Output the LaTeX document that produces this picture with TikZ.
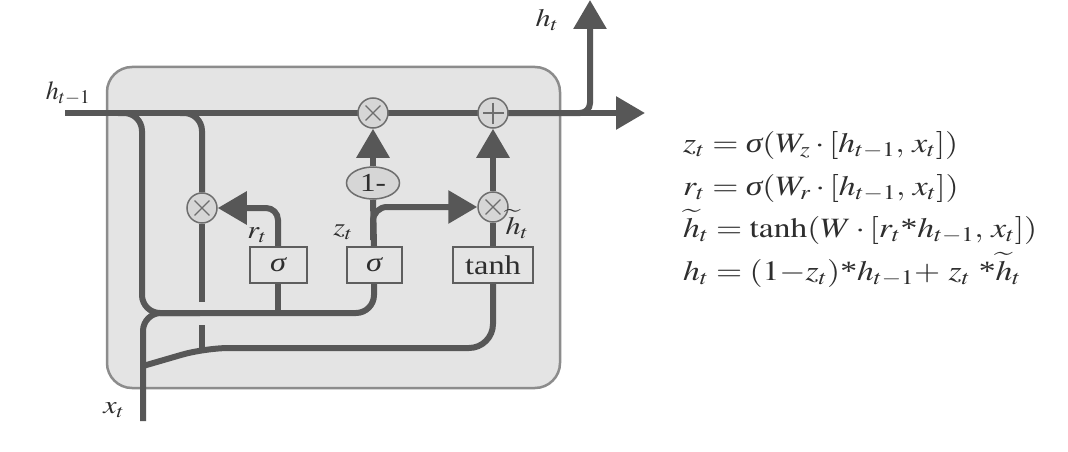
\documentclass[tikz,border=0pt]{standalone}
\usepackage{mathptmx}
\usepackage{fontspec}
\setmainfont{Liberation Serif}
\usetikzlibrary{arrows.meta,shapes.geometric}
\definecolor{wirec}{HTML}{575757}
\definecolor{cellf}{HTML}{E4E4E4}
\definecolor{celld}{HTML}{8C8C8C}
\definecolor{opf}{HTML}{D6D6D6}
\definecolor{opd}{HTML}{6E6E6E}
\definecolor{gated}{HTML}{5E5E5E}
\definecolor{txt}{HTML}{2E2E2E}
\newcommand\stx{\mbox{*}}
\newcommand\sig{\mbox{\itshape σ}}
\newcommand\wx[1]{\scalebox{1.2}[1]{#1}}
\pgfdeclarelayer{back}
\pgfdeclarelayer{wires}
\pgfsetlayers{back,wires,main}
\tikzset{
  wire/.style={line width=6pt, draw=wirec},
  tip/.style={-{Triangle[length=29pt,width=32pt]}},
  op/.style={circle, draw=opd, fill=opf, line width=1.5pt, minimum size=30pt, inner sep=0pt},
  timesop/.style={op, path picture={\draw[line width=1.3pt, opd]
      ([shift={(45:10.5pt)}]path picture bounding box.center) -- ([shift={(225:10.5pt)}]path picture bounding box.center)
      ([shift={(135:10.5pt)}]path picture bounding box.center) -- ([shift={(-45:10.5pt)}]path picture bounding box.center);}},
  plusop/.style={op, path picture={\draw[line width=1.3pt, opd]
      ([shift={(0:10.5pt)}]path picture bounding box.center) -- ([shift={(180:10.5pt)}]path picture bounding box.center)
      ([shift={(90:10.5pt)}]path picture bounding box.center) -- ([shift={(-90:10.5pt)}]path picture bounding box.center);}},
  gatebox/.style={rectangle, draw=gated, fill=cellf, line width=2pt, minimum height=36pt, inner sep=0pt, text=txt, font=\fontsize{27}{28}\selectfont},
  onebox/.style={ellipse, draw=opd, fill=opf, line width=1.5pt, minimum width=53pt, minimum height=32pt, inner sep=0pt, text=txt, font=\fontsize{26}{28}\selectfont},
  lbl/.style={text=txt, inner sep=0pt, font=\fontsize{25}{26}\selectfont},
  eq/.style={text=txt, inner sep=0pt, anchor=base west, font=\fontsize{28}{30}\selectfont},
}
\begin{document}
\begin{tikzpicture}[x=1pt,y=-1pt]
\useasboundingbox (0,0) rectangle (1068,452);
% cell
\begin{pgfonlayer}{back}
\fill[white] (0,0) rectangle (1068,452);
\node[draw=celld, fill=cellf, line width=2.5pt, rounded corners=25pt, minimum width=453pt, minimum height=321pt] (cell) at (333.5,227.5) {};
\end{pgfonlayer}
% operators and gates
\node[timesop] (mz) at (373,113) {};
\node[plusop] (pl) at (493,113) {};
\node[onebox] (one) at (373,183) {\wx{1-}};
\node[timesop] (mr) at (202,208) {};
\node[timesop] (mh) at (493,207) {};
\node[gatebox, minimum width=57pt] (sr) at (278,265) {\wx{\sig}};
\node[gatebox, minimum width=55pt] (sz) at (374,265) {\wx{\sig}};
\node[gatebox, minimum width=80pt] (th) at (493,265) {\wx{tanh}};
% coordinates
\coordinate (hin) at (65,113);
\coordinate (hout) at (645,113);
\coordinate (htop) at (590,0);
\coordinate (xbot) at (143,421);
% labels
\node[lbl] (lht) at (547,20) {\wx{$h_t$}};
\node[lbl, font=\fontsize{26}{26}\selectfont] (lhp) at (68,93) {$h_{t-1}$};
\node[lbl] (lx) at (114,410) {\wx{$x_t$}};
\node[lbl] (lr) at (257,235) {\wx{$r_t$}};
\node[lbl] (lz) at (343,232) {\wx{$z_t$}};
\node[lbl] (lhh) at (517,224) {\wx{$\widetilde{h}_t$}};
% equations
\node[eq] (e1) at (683,152) {\wx{$z_t = \sig(W_z\cdot[h_{t-1},\,x_t])$}};
\node[eq] (e2) at (683,195) {\wx{$r_t = \sig(W_r\cdot[h_{t-1},\,x_t])$}};
\node[eq] (e3) at (683,237) {\wx{$\widetilde{h}_t = \tanh(W\cdot[r_t\stx h_{t-1},\,x_t])$}};
\node[eq] (e4) at (683,280) {\wx{$h_t = (1{-}z_t)\stx h_{t-1}{+}\ z_t\ \stx\widetilde{h}_t$}};
% wires
\begin{pgfonlayer}{wires}
\draw[wire, tip] (hin) -- (hout);
\draw[wire, tip, rounded corners=10pt] (pl.east) -| (htop);
% h_{t-1} branch into the gates
\draw[wire, rounded corners=18pt] (118,113) -- (142,113) -- (142,313) -- (sz.south |- 0,313) -- (sz.south);
\draw[wire] (sr.south) -- (sr.south |- 0,313);
% x_t
\draw[wire, rounded corners=18pt] (xbot) -- (143,313) -- (200,313);
\draw[wire, rounded corners=24pt] (143,366) -- (205,348) -- (th.south |- 0,348) -- (th.south);
% reset branch
\draw[wire, rounded corners=18pt] (180,113) -- (mr.center |- 0,113) -- (mr.north);
\draw[wire] (mr.south) -- (mr.south |- 0,302);
\draw[wire] (mr.south |- 0,325) -- (mr.south |- 0,348);
\draw[wire, tip, rounded corners=12pt] (sr.north) |- (mr.east);
% update branch
\draw[wire] (sz.north) -- (one.south);
\draw[wire, tip] (one.north) -- (mz.south);
\draw[wire, tip, rounded corners=14pt] (373,240) -- (373,207) -- (mh.west);
\draw[wire] (th.north) -- (mh.south);
\draw[wire, tip] (mh.north) -- (pl.south);
\end{pgfonlayer}
\end{tikzpicture}
\end{document}
